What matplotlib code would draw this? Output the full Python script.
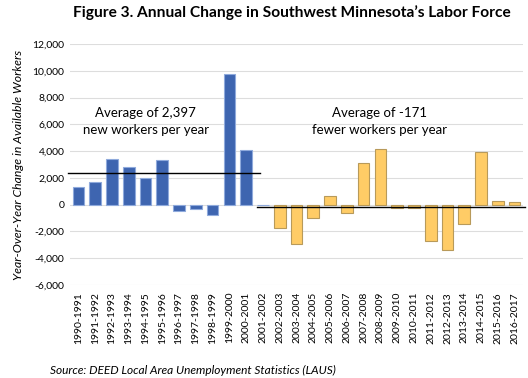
import matplotlib
matplotlib.use("Agg")
import matplotlib.pyplot as plt

periods = ["1990-1991", "1991-1992", "1992-1993", "1993-1994", "1994-1995", "1995-1996",
           "1996-1997", "1997-1998", "1998-1999", "1999-2000", "2000-2001", "2001-2002",
           "2002-2003", "2003-2004", "2004-2005", "2005-2006", "2006-2007", "2007-2008",
           "2008-2009", "2009-2010", "2010-2011", "2011-2012", "2012-2013", "2013-2014",
           "2014-2015", "2015-2016", "2016-2017"]
changes = [1350, 1660, 3420, 2790, 2010, 3300, -480, -360, -780, 9750, 4050, -60,
           -1740, -2950, -1000, 680, -600, 3110, 4150, -250, -250, -2720, -3400, -1430,
           3940, 300, 170]
avg_early = 2397
avg_late = -171

plt.rcParams['font.family'] = ['Lato', 'DejaVu Sans']

fig = plt.figure(figsize=(5.28, 3.78), dpi=100)
ax = fig.add_axes([0.1326, 0.246, 0.8579, 0.6376])

x = list(range(len(periods)))
face = []
edge = []
for i in x:
    if i <= 10:
        face.append('#3E65B0'); edge.append('#8FAADC')
    elif i == 11:
        face.append('#8FAADC'); edge.append('#8FAADC')
    else:
        face.append('#FFCC66'); edge.append('#B89A5A')
ax.bar(x, changes, width=0.7, color=face, edgecolor=edge, linewidth=0.8, zorder=2)

ax.plot([-0.62, 10.8], [avg_early, avg_early], color='black', lw=1.0, zorder=3, clip_on=False)
ax.plot([10.63, 26.6], [avg_late, avg_late], color='black', lw=1.0, zorder=3, clip_on=False)

ax.text(4.0, 6200, "Average of 2,397\nnew workers per year", ha='center', va='center',
        fontsize=9.5, linespacing=1.5)
ax.text(17.95, 6200, "Average of -171\nfewer workers per year", ha='center', va='center',
        fontsize=9.5, linespacing=1.5)

ax.set_xlim(-0.5, len(periods) - 0.5)
ax.set_ylim(-6000, 12000)
ax.set_yticks(range(-6000, 12001, 2000))
ax.set_yticklabels([f"{v:,}" for v in range(-6000, 12001, 2000)], fontsize=7.5)
ax.set_xticks(x)
ax.set_xticklabels(periods, rotation=90, fontsize=7.5)
ax.tick_params(axis='both', length=0, pad=4)
ax.tick_params(axis='x', pad=5)
ax.grid(axis='y', color='#DDDDDD', lw=0.8, zorder=0)
for s in ax.spines.values():
    s.set_visible(False)

ax.set_ylabel("Year-Over-Year Change in Available Workers", fontsize=8.8, style='italic', labelpad=6)

fig.text(0.553, 0.966, "Figure 3. Annual Change in Southwest Minnesota\u2019s Labor Force",
         ha='center', va='center', fontsize=11.2, fontweight='bold')
fig.text(0.095, 0.021, "Source: DEED Local Area Unemployment Statistics (LAUS)",
         ha='left', va='center', fontsize=8.6, style='italic')

fig.savefig("out.png", dpi=100)
